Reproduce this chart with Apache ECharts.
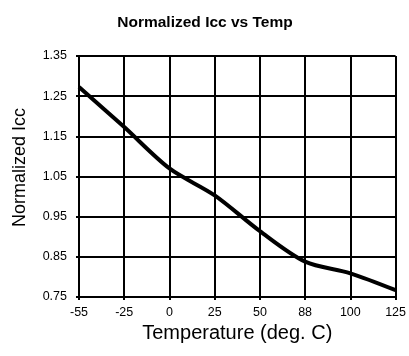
<!DOCTYPE html>
<html>
<head>
<meta charset="utf-8">
<script src="https://cdn.jsdelivr.net/npm/echarts@6/dist/echarts.min.js"></script>
<style>html,body{margin:0;padding:0;background:#fff;}#c{width:409px;height:356px;}</style>
</head>
<body>
<div id="c"></div>
<script>
var categories = ['-55', '-25', '0', '25', '50', '88', '100', '125'];
var icc = [1.273, 1.173, 1.07, 1.003, 0.914, 0.838, 0.809, 0.767];
var yMin = 0.75, yMax = 1.35, yStep = 0.1;

var FONT = 'Liberation Sans, Arial, sans-serif';
var chart = echarts.init(document.getElementById('c'));
chart.setOption({
  animation: false,
  backgroundColor: '#fff',
  title: {
    text: 'Normalized Icc vs Temp',
    left: 200, top: 10, textAlign: 'center',
    textStyle: { fontFamily: FONT, fontSize: 15.5, fontWeight: 'bold', color: '#000' }
  },
  grid: { left: 79, top: 56, right: 7, bottom: 59, containLabel: false },
  xAxis: {
    type: 'category', data: categories, boundaryGap: false,
    name: 'Temperature (deg. C)', nameLocation: 'middle', nameGap: 26,
    nameTextStyle: { fontFamily: FONT, fontSize: 20, color: '#000' },
    axisLine: { lineStyle: { color: '#000', width: 2 } },
    axisTick: { show: true, length: 3, lineStyle: { color: '#000', width: 2 } },
    axisLabel: { fontFamily: FONT, fontSize: 12.5, color: '#000', margin: 9 },
    splitLine: { show: true, lineStyle: { color: '#000', width: 2 } }
  },
  yAxis: {
    type: 'value', min: yMin, max: yMax, interval: yStep,
    name: 'Normalized Icc', nameLocation: 'middle', nameGap: 50,
    nameTextStyle: { fontFamily: FONT, fontSize: 18, color: '#000', padding: [0, 0, 0, 18] },
    axisLine: { show: true, lineStyle: { color: '#000', width: 2 } },
    axisTick: { show: true, length: 3, lineStyle: { color: '#000', width: 2 } },
    axisLabel: { fontFamily: FONT, fontSize: 12.5, color: '#000', margin: 12,
      formatter: function (v) { return v.toFixed(2); } },
    splitLine: { show: true, lineStyle: { color: '#000', width: 2 } }
  },
  series: [{
    type: 'line', data: icc, smooth: 0.3, symbol: 'none',
    lineStyle: { color: '#000', width: 4 }
  }]
});
</script>
</body>
</html>
